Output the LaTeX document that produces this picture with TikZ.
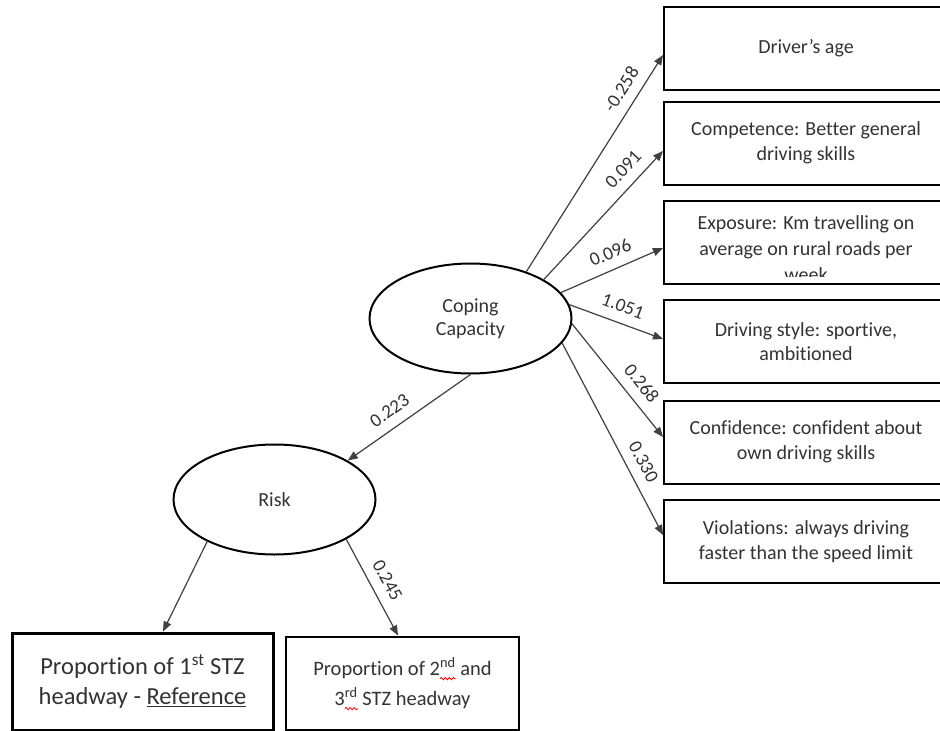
\documentclass[tikz,border=0pt]{standalone}
\usepackage{fontspec}
\setmainfont{Carlito}[Ligatures={NoCommon}]
\usetikzlibrary{arrows.meta,shapes.geometric,calc,decorations.pathmorphing}
\definecolor{txt}{HTML}{333333}
\definecolor{ln}{HTML}{404040}
\newlength\wsupw
\newcommand\wavysup[1]{\settowidth\wsupw{\textsuperscript{#1}}\textsuperscript{#1}\tikz[overlay,baseline=0pt]\draw[red,line width=0.8pt,decorate,decoration={snake,amplitude=1.2pt,segment length=4pt}] (-\wsupw,-3.5pt) -- (0pt,-3.5pt);}
\begin{document}
\begin{tikzpicture}[x=1pt,y=-1pt,
  box/.style={draw=black,line width=2pt,minimum width=284pt,minimum height=83pt,inner sep=0pt,text=txt,align=center,font=\fontsize{20}{24.5}\selectfont},
  latent/.style={ellipse,draw=black,line width=2pt,minimum width=202pt,minimum height=110pt,inner sep=0pt,text=txt,align=center,font=\fontsize{20}{23}\selectfont},
  conn/.style={draw=ln,line width=1.2pt,-{Triangle[length=10pt,width=8pt]}},
  coef/.style={sloped,above=9pt,inner sep=1pt,text=txt,font=\fontsize{19}{22}\selectfont}]
\useasboundingbox (0,0) rectangle (940,731);
\fill[white] (0,0) rectangle (940,731);

% indicator boxes
\node[box] (b1) at (806,48) {Driver’s age};
\node[box] (b2) at (806,143) {Competence: Better general\\driving skills};
\node[box] (b3) at (806,242) {};
\begin{scope}
  \clip (665,201) rectangle (947,276.5);
  \node[text=txt,align=center,inner sep=0pt,font=\fontsize{20}{26}\selectfont] (b3t) at (806,249) {Exposure: Km travelling on\\average on rural roads per\\week};
\end{scope}
\node[box] (b4) at (806,341.5) {Driving style: sportive,\\ambitioned};
\node[box] (b5) at (806,442) {Confidence: confident about\\own driving skills};
\node[box] (b6) at (806,541.5) {Violations: always driving\\faster than the speed limit};

% latent variables
\node[latent] (cc) at (470.5,318.5) {Coping\\Capacity};
\node[latent] (risk) at (274.5,499.5) {Risk};

% outcome boxes
\node[draw=black,line width=3pt,minimum width=261pt,minimum height=97pt,inner sep=0pt,align=center,text=txt,font=\fontsize{24.5}{30.5}\selectfont] (p1) at (142.5,681.5) {Proportion of 1\textsuperscript{st} STZ\\headway - \underline{Reference}};
\node[draw=black,line width=2pt,minimum width=233pt,minimum height=93pt,inner sep=0pt,align=center,text=txt,font=\fontsize{20.5}{30}\selectfont] (p2) at (402.5,683) {Proportion of 2\wavysup{nd} and\\3\wavysup{rd} STZ headway};

% connectors
\draw[conn] (cc.40) -- ([yshift=-7pt]b1.west) node[coef,pos=0.8] {-0.258};
\draw[conn] (cc.28) -- ([yshift=-8pt]b2.west) node[coef,pos=0.77] {0.091};
\draw[conn] (cc.16) -- ([yshift=-6pt]b3.west) node[coef,pos=0.55] {0.096};
\draw[conn] (cc.8) -- ([yshift=2.5pt]b4.west) node[coef,pos=0.51] {1.051};
\draw[conn] (cc.-3) -- ([yshift=5pt]b5.west) node[coef,pos=0.62] {0.268};
\draw[conn] (cc.-15) -- ([yshift=6.5pt]b6.west) node[coef,pos=0.66] {0.330};
\draw[conn] (cc.south) -- (risk.28) node[coef,pos=0.58] {0.223};
\draw[conn] (risk.212) -- ([xshift=20.5pt]p1.north);
\draw[conn] (risk.-29) -- ([xshift=-4.5pt]p2.north) node[coef,pos=0.51] {0.245};
\end{tikzpicture}
\end{document}
